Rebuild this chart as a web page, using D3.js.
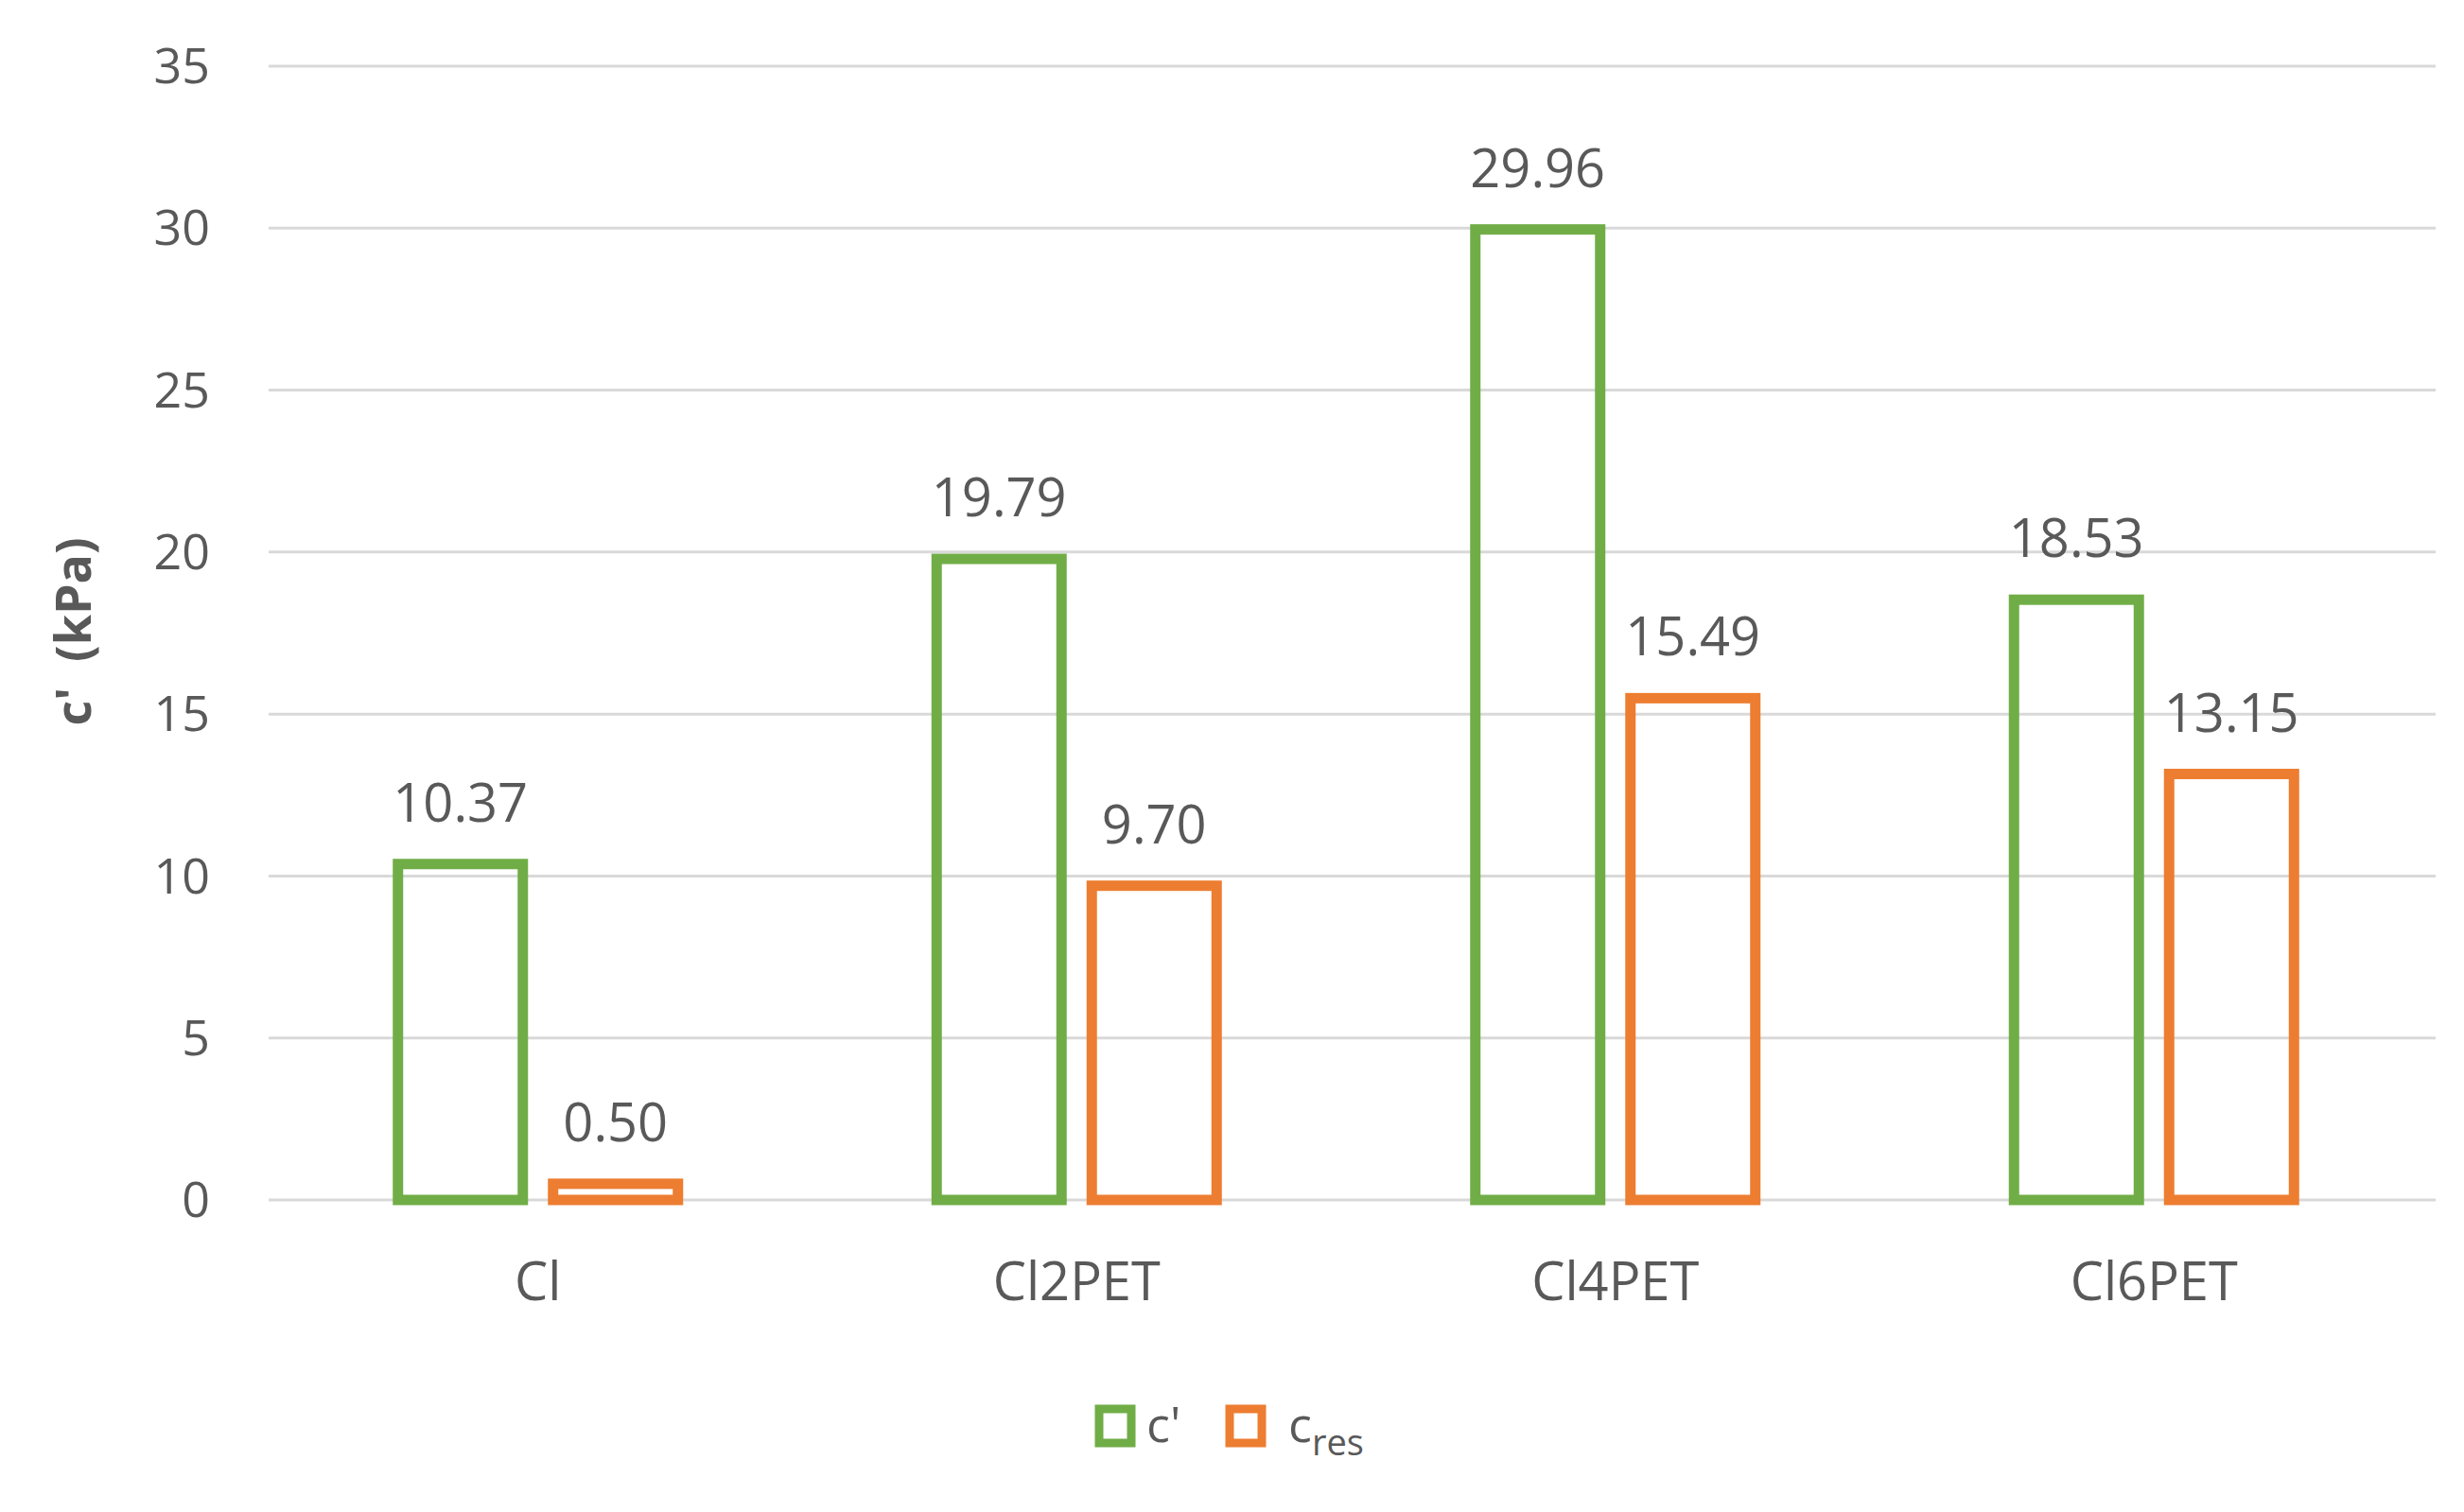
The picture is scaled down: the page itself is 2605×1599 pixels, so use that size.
<!DOCTYPE html><html><head><meta charset="utf-8"><script src="https://cdn.jsdelivr.net/npm/d3@7"></script>
<style>body{margin:0;background:#fff}text{font-family:"Liberation Sans Narrow","Open Sans",sans-serif}</style></head><body>
<script>
const categories=["Cl","Cl2PET","Cl4PET","Cl6PET"];
const cPrime=[10.37,19.79,29.96,18.53];
const cRes=[0.50,9.70,15.49,13.15];
const yTicks=[0,5,10,15,20,25,30,35];
const W=2605,H=1599;
const svg=d3.select("body").append("svg").attr("width",W).attr("height",H);
const x=d3.scaleBand().domain(categories).range([284,2562]);
const y=d3.scaleLinear().domain([0,35]).range([1269,70]);
const col="#595959";
yTicks.forEach(t=>{svg.append("line").attr("x1",284).attr("x2",2575).attr("y1",y(t)).attr("y2",y(t)).attr("stroke","#D9D9D9").attr("stroke-width",3);
svg.append("text").attr("x",222).attr("y",y(t)).attr("dy","0.35em").attr("text-anchor","end").attr("font-size",52).attr("fill",col).text(t);});
const bw=132,off=82;
const series=[{v:cPrime,c:"#70AD47",d:-off},{v:cRes,c:"#ED7D31",d:off}];
series.forEach(s=>{categories.forEach((k,i)=>{const cx=x(k)+x.bandwidth()/2+s.d;const v=s.v[i];
svg.append("rect").attr("x",cx-bw/2).attr("y",y(v)).attr("width",bw).attr("height",y(0)-y(v)).attr("fill","none").attr("stroke",s.c).attr("stroke-width",11);
svg.append("text").attr("x",cx).attr("y",y(v)-45).attr("text-anchor","middle").attr("font-size",56).attr("fill",col).text(v.toFixed(2));});});
categories.forEach(k=>svg.append("text").attr("x",x(k)+x.bandwidth()/2).attr("y",1375).attr("text-anchor","middle").attr("font-size",56).attr("fill",col).text(k));
svg.append("text").attr("transform","translate(96,668) rotate(-90)").attr("text-anchor","middle").attr("font-size",52).attr("font-weight","bold").attr("fill",col).attr("font-family","DejaVu Sans").attr("xml:space","preserve").text("c'  (kPa)");
const lg=svg.append("g");
lg.append("rect").attr("x",1162).attr("y",1490).attr("width",34).attr("height",36).attr("fill","none").attr("stroke","#70AD47").attr("stroke-width",9);
lg.append("text").attr("x",1212).attr("y",1525).attr("font-size",52).attr("fill",col).text("c'");
lg.append("rect").attr("x",1300).attr("y",1490).attr("width",34).attr("height",36).attr("fill","none").attr("stroke","#ED7D31").attr("stroke-width",9);
const t=lg.append("text").attr("x",1362).attr("y",1525).attr("font-size",52).attr("fill",col);
t.append("tspan").text("c");t.append("tspan").attr("font-size",38).attr("dy",14).text("res");
</script></body></html>
